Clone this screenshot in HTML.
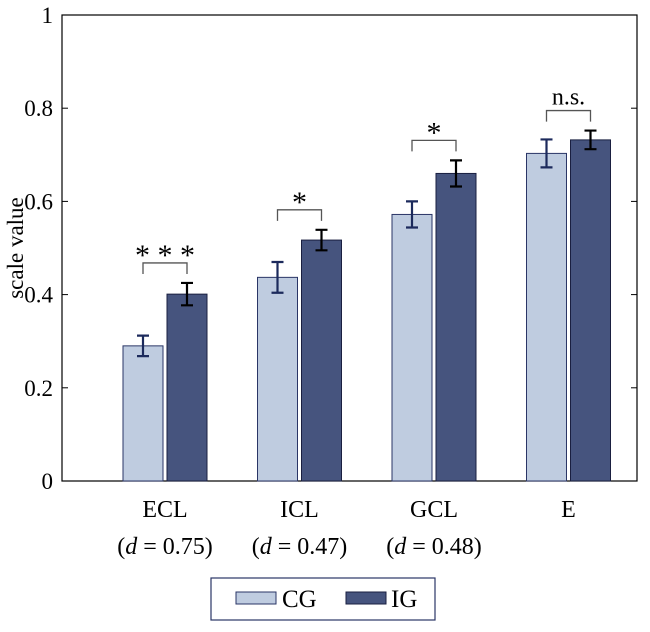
<!DOCTYPE html>
<html><head><meta charset="utf-8"><style>
body{margin:0;background:#fff}
text{font-family:"Liberation Serif",serif;fill:#000}
</style></head><body>
<svg id="chart" width="650" height="627" viewBox="0 0 650 627">
<rect x="62" y="15" width="575" height="466" fill="none" stroke="#000" stroke-width="1.2"/>
<g id="axes"></g><g id="bars"></g><g id="sig"></g>
<text x="23" y="248" font-size="23" text-anchor="middle" transform="rotate(-90 23 248)">scale value</text>
<g>
<rect x="211" y="578" width="224" height="42" fill="#fff" stroke="#2a3566" stroke-width="1.2"/>
<rect x="236" y="592" width="40" height="12" fill="#bfcce0" stroke="#2a3566"/>
<text x="282" y="607" font-size="25">CG</text>
<rect x="346" y="592" width="40" height="12" fill="#46547e" stroke="#1a1f40"/>
<text x="391" y="607" font-size="25">IG</text>
</g>
</svg>
<script>
const categories=["ECL","ICL","GCL","E"];
const effectSizes=["0.75","0.47","0.48",""];
const cgValues=[0.29,0.437,0.572,0.703];
const cgErrors=[0.022,0.033,0.028,0.03];
const igValues=[0.401,0.517,0.66,0.732];
const igErrors=[0.024,0.022,0.028,0.02];
const sigLabels=["* * *","*","*","n.s."];
const yTicks=[0,0.2,0.4,0.6,0.8,1];
const yTickLabels=["0","0.2","0.4","0.6","0.8","1"];
const NS="http://www.w3.org/2000/svg";
const y=v=>481-v*466;
const gx=i=>165+i*134.5;
function mk(tag,attrs,parent,txt){const e=document.createElementNS(NS,tag);for(const k in attrs)e.setAttribute(k,attrs[k]);if(txt!==undefined)e.textContent=txt;document.getElementById(parent).appendChild(e);return e;}
yTicks.forEach((t,i)=>{
 const l=mk('line',{x1:62,x2:68,y1:y(t),y2:y(t),stroke:'#000'},'axes');
 
 
 const l2=mk('line',{x1:631,x2:637,y1:y(t),y2:y(t),stroke:'#000'},'axes');
 
 
 const tx=mk('text',{x:53,y:y(t)+8,'font-size':23,'text-anchor':'end'},'axes',yTickLabels[i]);
 
 
});
categories.forEach((c,i)=>{
 const cx=gx(i);
 const t=mk('text',{x:cx,y:517,'font-size':24,'text-anchor':'middle'},'axes',c);
 
 
 if(effectSizes[i]){
  const d=mk('text',{x:cx,y:554,'font-size':24,'text-anchor':'middle'},'axes');
  d.innerHTML='(<tspan font-style="italic">d</tspan> = '+effectSizes[i]+')';
  
  
 }
 [[cgValues,cgErrors,-42,'#bfcce0','#2a3566','#1c2a5c','cg'],[igValues,igErrors,2,'#46547e','#1a1f40','#000','ig']].forEach(([vals,errs,off,fill,st,ec,nm])=>{
  const v=vals[i],e=errs[i],x0=cx+off,w=40,m=x0+w/2;
  const r=mk('rect',{x:x0,y:y(v),width:w,height:481-y(v),fill:fill,stroke:st,'stroke-width':1},'bars');
  
  
  const g=mk('path',{d:`M${m},${y(v+e)}V${y(v-e)}M${m-6},${y(v+e)}H${m+6}M${m-6},${y(v-e)}H${m+6}`,stroke:ec,'stroke-width':2.2,fill:'none'},'bars');
  
  
 });
 const top=y(Math.max(igValues[i]+igErrors[i],cgValues[i]+cgErrors[i]))-20;
 const b=mk('path',{d:`M${cx-22},${top+11}V${top}H${cx+22}V${top+11}`,stroke:'#555',fill:'none','stroke-width':1.3},'sig');
 
 
 const st=mk('text',{x:cx,y:top-6+(sigLabels[i]==='n.s.'?0:8),'font-size':sigLabels[i]==='n.s.'?24:30,'text-anchor':'middle'},'sig',sigLabels[i]);
 
 
});
</script>
</body></html>
